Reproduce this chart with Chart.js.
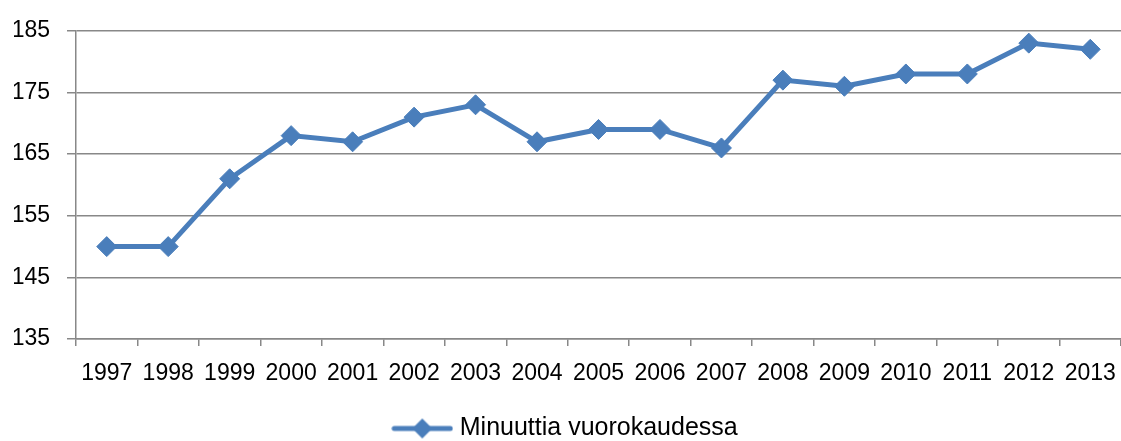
<!DOCTYPE html>
<html>
<head>
<meta charset="utf-8">
<script src="https://cdn.jsdelivr.net/npm/chart.js@4/dist/chart.umd.min.js"></script>
<style>
  html, body { margin: 0; padding: 0; background: #fff; }
  #wrap { width: 1121px; height: 441px; }
</style>
</head>
<body>
<div id="wrap"><canvas id="chart"></canvas></div>
<script>
// データ
const years = ["1997", "1998", "1999", "2000", "2001", "2002", "2003", "2004", "2005",
  "2006", "2007", "2008", "2009", "2010", "2011", "2012", "2013"];
const minutes = [150, 150, 161, 168, 167, 171, 173, 167, 169, 169, 166, 177, 176, 178, 178, 183, 182];
const seriesName = "Minuuttia vuorokaudessa";
const yMin = 135, yMax = 185, yStep = 10;

const blue = "#4A7EBB";
const gridGray = "#888888";
const fontFamily = "'Liberation Sans', Arial, sans-serif";

// 凡例用のアイコン（線 + ひし形）
function legendIcon() {
  const c = document.createElement("canvas");
  c.width = 62; c.height = 22;
  const ctx = c.getContext("2d");
  ctx.strokeStyle = blue;
  ctx.lineWidth = 5;
  ctx.lineCap = "round";
  ctx.beginPath();
  ctx.moveTo(3, 11); ctx.lineTo(59, 11);
  ctx.stroke();
  ctx.fillStyle = blue;
  ctx.beginPath();
  ctx.moveTo(31, 1); ctx.lineTo(41, 11); ctx.lineTo(31, 21); ctx.lineTo(21, 11);
  ctx.closePath();
  ctx.fill();
  return c;
}

new Chart(document.getElementById("chart"), {
  type: "line",
  data: {
    labels: years,
    datasets: [{
      label: seriesName,
      data: minutes,
      borderColor: blue,
      backgroundColor: blue,
      borderWidth: 5,
      pointStyle: "rectRot",
      pointRadius: 10,
      pointBorderWidth: 1,
      pointBorderColor: blue,
      pointBackgroundColor: blue,
      tension: 0
    }]
  },
  options: {
    responsive: true,
    maintainAspectRatio: false,
    animation: false,
    layout: { autoPadding: false, padding: { top: 9, right: 0, left: 14, bottom: -10 } },
    scales: {
      x: {
        offset: true,
        grid: {
          offset: true,
          drawOnChartArea: false,
          drawTicks: true,
          tickLength: 7,
          color: gridGray,
          lineWidth: 1.5
        },
        border: { display: true, color: gridGray, width: 1.5 },
        ticks: {
          color: "#000",
          font: { family: fontFamily, size: 23, lineHeight: 2.43 },
          maxRotation: 0,
          autoSkip: false,
          padding: 0
        },
        // 凡例との間隔、左右の余白なし
        afterFit: scale => {
          scale.height += 13;
          scale.paddingLeft = 0;
          scale.paddingRight = 0;
        }
      },
      y: {
        min: yMin,
        max: yMax,
        grid: {
          color: gridGray,
          lineWidth: 1.5,
          drawTicks: true,
          tickLength: 9
        },
        border: { display: true, color: gridGray, width: 1.5 },
        ticks: {
          stepSize: yStep,
          color: "#000",
          font: { family: fontFamily, size: 23 },
          padding: 17
        },
        afterFit: scale => { scale.width = 62; }
      }
    },
    plugins: {
      legend: {
        position: "bottom",
        labels: {
          color: "#000",
          font: { family: fontFamily, size: 25 },
          usePointStyle: true,
          pointStyleWidth: 50,
          padding: 1,
          generateLabels: chart => [{
            text: seriesName,
            pointStyle: legendIcon(),
            fillStyle: blue,
            strokeStyle: blue,
            lineWidth: 0,
            datasetIndex: 0
          }]
        }
      },
      tooltip: { enabled: false }
    }
  }
});
</script>
</body>
</html>
